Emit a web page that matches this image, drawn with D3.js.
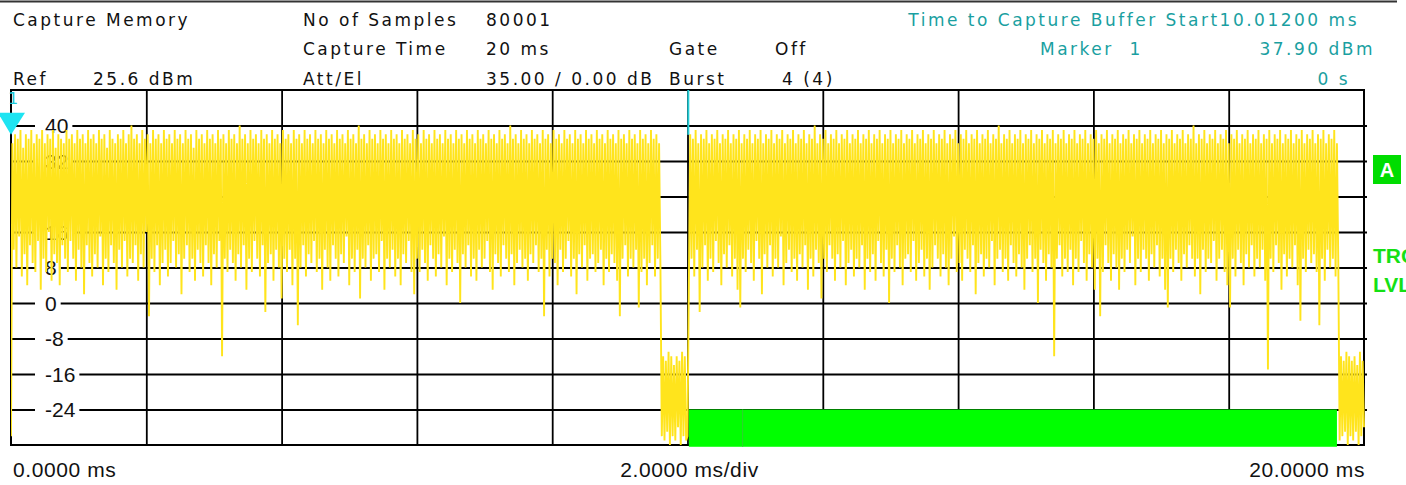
<!DOCTYPE html>
<html>
<head>
<meta charset="utf-8">
<script src="https://cdn.jsdelivr.net/npm/d3@7"></script>
<style>
html, body { margin: 0; padding: 0; background: #fff; overflow: hidden; }
svg { display: block; }
</style>
</head>
<body>
<svg id="chart" width="1406" height="485"></svg>
<script>
// ---- values
var timeDomain = [0, 20];      // ms
var levelDomain = [-32, 48];   // dBm
var yTicks = [40, 32, 24, 16, 8, 0, -8, -16, -24];
var xTicks = [2, 4, 6, 8, 10, 12, 14, 16, 18];

var sampleStep = 0.02;   // ms between plotted samples
var leadStart = 0, leadLevels = [-30];

var burst1Start = 0.02;
var burst1Levels = [
  36,12, 38,8, 37,15, 39,6, 35,11, 38,4, 37,13, 39,9, 36,7, 38,14,
  37,3, 39,10, 36,7, 38,16, 37,5, 39,11, 35,9, 38,4, 37,13, 36,10,
  39,7, 37,14, 38,10, 36,5, 39,12, 37,8, 38,2, 36,13, 39,9, 37,6,
  38,11, 36,8, 39,15, 37,4, 38,10, 35,7, 39,13, 37,9, 36,3, 38,12,
  37,8, 39,14, 36,6, 38,10, 40,9, 37,13, 38,5, 36,11, 39,8, 37,16,
  38,-3, 36,10, 39,7, 37,13, 38,4, 36,9, 39,12, 37,6, 38,9, 36,14,
  39,8, 37,11, 38,2, 36,10, 39,13, 37,7, 38,10, 35,5, 39,12, 37,9,
  38,6, 36,13, 39,9, 37,4, 38,11, 36,8, 39,14, 37,-12, 38,10, 36,7,
  39,12, 37,9, 38,5, 36,11, 40,8, 37,13, 38,3, 36,10, 39,7, 37,14,
  38,10, 36,6, 39,13, 37,-2, 38,9, 36,11, 39,5, 37,12, 38,8, 36,1,
  39,10, 37,7, 38,12, 36,4, 39,10, 37,-5, 38,8, 36,13, 39,6, 37,11,
  38,9, 36,14, 39,7, 37,10, 38,3, 36,12, 39,8, 37,5, 38,13, 36,10,
  39,6, 37,11, 38,9, 36,15, 39,4, 37,10, 38,7, 36,12, 40,1, 37,10,
  38,8, 36,13, 39,5, 37,10, 38,11, 36,7, 39,14, 37,3, 38,10, 36,8,
  39,12, 37,6, 38,10, 36,4, 39,11, 37,9, 38,14, 36,7, 39,2, 37,10,
  38,7, 36,12, 39,9, 37,5, 38,13, 36,10, 39,6, 37,11, 38,8, 36,15,
  39,4, 37,10, 38,7, 36,12, 39,9, 37,0, 38,11, 36,8, 39,13, 37,6,
  38,10, 36,5, 39,12, 37,8, 38,10, 36,14, 39,7, 37,3, 38,11, 36,9,
  39,6, 37,13, 38,10, 36,7, 40,11, 37,4, 38,9, 36,12, 39,8, 37,10,
  38,5, 36,11, 39,9, 37,13, 38,7, 36,10, 39,-3, 37,12, 38,6, 36,10,
  39,9, 37,4, 38,12, 36,7, 39,10, 37,14, 38,6, 36,10, 39,2, 37,11,
  38,8, 36,13, 39,5, 37,10, 38,11, 36,7, 39,9, 37,12, 38,4, 36,10,
  39,7, 37,11, 38,9, 36,5, 39,-3, 37,10, 38,13, 36,6, 39,10, 37,8,
  38,12, 36,-1, 39,7, 37,10, 38,4, 36,9, 39,13, 37,6, 38,10, 36,8
];

var gap1Start = 9.62;
var gap1Levels = [-30,-12,-31,-13,-29,-11,-32,-12,-30,-14,-31,-12,-28,-13,-32,-11,-30,-12,-31,-30];

var burst2Start = 10.04;
var burst2Levels = [
  38,10, 37,6, 39,12, 36,-2, 38,8, 37,13, 39,5, 36,10, 38,7, 37,14,
  39,9, 36,4, 38,11, 37,8, 39,13, 36,6, 38,10, 37,3, 39,-1, 36,10,
  38,7, 37,12, 39,9, 36,5, 38,14, 37,10, 39,2, 36,11, 38,8, 37,13,
  39,6, 36,10, 38,8, 37,15, 39,4, 36,9, 38,12, 37,7, 39,10, 36,5,
  38,11, 37,8, 39,13, 36,3, 38,10, 37,6, 40,12, 36,9, 38,1, 37,10,
  39,7, 36,13, 38,10, 37,5, 39,11, 36,8, 38,14, 37,4, 39,9, 36,12,
  38,6, 37,10, 39,8, 36,13, 38,3, 37,10, 39,7, 36,11, 38,5, 37,14,
  39,9, 36,6, 38,12, 37,0, 39,10, 36,7, 38,13, 37,8, 39,4, 36,10,
  38,11, 37,7, 39,14, 36,5, 38,9, 37,12, 39,6, 36,10, 38,3, 37,8,
  39,13, 36,10, 38,6, 37,11, 39,8, 36,4, 38,10, 37,15, 39,7, 36,9,
  38,5, 37,12, 39,10, 36,7, 38,13, 37,2, 39,9, 36,11, 38,6, 37,10,
  39,8, 36,14, 38,4, 37,10, 40,12, 36,7, 38,10, 37,5, 39,13, 36,9,
  38,6, 37,11, 39,8, 36,3, 38,10, 37,13, 39,7, 36,10, 38,0, 37,12,
  39,9, 36,5, 38,11, 37,8, 39,-12, 36,10, 38,13, 37,6, 39,10, 36,7,
  38,12, 37,4, 39,10, 36,7, 38,14, 37,9, 39,5, 36,11, 38,8, 37,3,
  39,10, 36,-3, 38,7, 37,13, 39,9, 36,5, 38,11, 37,8, 39,3, 36,10,
  38,7, 37,12, 39,9, 36,15, 38,4, 37,10, 39,7, 36,12, 38,10, 37,5,
  39,11, 36,8, 38,13, 37,6, 39,10, 36,3, 38,-1, 37,10, 39,7, 36,12,
  38,9, 37,5, 39,11, 36,8, 38,13, 37,10, 40,6, 36,10, 38,2, 37,12,
  39,7, 36,10, 38,9, 37,14, 39,5, 36,10, 38,12, 37,7, 39,4, 36,-1,
  38,10, 37,6, 39,12, 36,9, 38,4, 37,11, 39,8, 36,13, 38,6, 37,10,
  39,8, 36,12, 38,5, 37,-15, 39,10, 36,7, 38,13, 37,9, 39,3, 36,11,
  38,6, 37,10, 39,8, 36,13, 38,4, 37,-4, 39,10, 36,7, 38,12, 37,9,
  39,11, 36,7, 38,-5, 37,10, 39,5, 36,12, 38,8, 37,10, 39,6, 36,9
];

var gap2Start = 19.64;
var gap2Levels = [-31,-12,-30,-13,-29,-11,-32,-12,-30,-13,-31,-12,-29,-14,-32,-11,-30,-13,-28];

var markerTime = 0, markerLevel = 37.9;
var captureStartTime = 10.012;
var gateSpan = [10.02, 19.6];
var gateDivider = 10.815;
var gateLevels = [-24, -32.4];

// ---- screen texts
var hdrTitle = "Capture Memory", hdrRef = "Ref", hdrRefVal = "25.6 dBm";
var hdrSamples = "No of Samples", hdrSamplesVal = "80001";
var hdrCapTime = "Capture Time", hdrCapTimeVal = "20 ms";
var hdrAtt = "Att/El", hdrAttVal = "35.00 / 0.00 dB";
var hdrGate = "Gate", hdrGateVal = "Off", hdrBurst = "Burst", hdrBurstVal = "4 (4)";
var hdrBuffer = "Time to Capture Buffer Start10.01200 ms";
var hdrMarker = "Marker\u00a0 1", hdrMarkerLvl = "37.90 dBm", hdrMarkerTime = "0 s";
var xStartLabel = "0.0000 ms", xDivLabel = "2.0000 ms/div", xEndLabel = "20.0000 ms";

// ---- layout
var plotL = 11, plotR = 1364, plotT = 90, plotB = 445;
var svg = d3.select("#chart");

var x = d3.scaleLinear().domain(timeDomain).range([plotL, plotR]);
var y = d3.scaleLinear().domain(levelDomain).range([plotB, plotT]);

function seg(start, arr) {
    return arr.map(function(v, i) { return {t: start + i * sampleStep, v: v}; });
}
var trace = [].concat(
    seg(leadStart, leadLevels),
    seg(burst1Start, burst1Levels),
    seg(gap1Start, gap1Levels),
    seg(burst2Start, burst2Levels),
    seg(gap2Start, gap2Levels)
);

// top frame line
svg.append("line")
    .attr("x1", 0).attr("x2", 1397).attr("y1", 1.5).attr("y2", 1.5)
    .style("stroke", "#333").style("stroke-width", 2);

// header
var hdr = svg.append("g")
    .style("font-family", "'DejaVu Sans', Verdana, sans-serif")
    .style("font-size", "17px")
    .style("letter-spacing", "2.5px")
    .style("fill", "#111");

function hText(txt, px, py, anchor, color) {
    return hdr.append("text").attr("x", px).attr("y", py)
        .attr("text-anchor", anchor || "start")
        .style("fill", color || "#111")
        .text(txt);
}
var row1 = 26, row2 = 55, row3 = 85, teal = "#1a9fa1";
hText(hdrTitle, 13, row1);
hText(hdrRef, 13, row3);
hText(hdrRefVal, 93, row3);
hText(hdrSamples, 303, row1);
hText(hdrSamplesVal, 486, row1);
hText(hdrCapTime, 303, row2);
hText(hdrCapTimeVal, 486, row2);
hText(hdrAtt, 303, row3);
hText(hdrAttVal, 486, row3);
hText(hdrGate, 669, row2);
hText(hdrGateVal, 775, row2);
hText(hdrBurst, 669, row3);
hText(hdrBurstVal, 782, row3);
hText(hdrBuffer, 1359, row1, "end", teal);
hText(hdrMarker, 1040, row2, "start", teal);
hText(hdrMarkerLvl, 1375, row2, "end", teal);
hText(hdrMarkerTime, 1350, row3, "end", teal);

// grid via axes
var gridY = svg.append("g")
    .attr("transform", "translate(" + (plotR + 3) + ",0)")
    .call(d3.axisLeft(y).tickValues(yTicks).tickSize(plotR + 3 - plotL).tickFormat(""));
var gridX = svg.append("g")
    .attr("transform", "translate(0," + plotT + ")")
    .call(d3.axisBottom(x).tickValues(xTicks).tickSize(plotB - plotT).tickFormat(""));
[gridY, gridX].forEach(function(g) {
    g.select(".domain").remove();
    g.selectAll(".tick line").style("stroke", "#000").style("stroke-width", 1.8);
});

// level labels sit on the grid with a white knock-out
var lab = svg.append("g")
    .style("font-family", "'Liberation Sans', Arial, sans-serif")
    .style("font-size", "21px")
    .style("fill", "#111");
yTicks.forEach(function(v) {
    var t = lab.append("text").attr("x", 45).attr("y", y(v) + 7.5).text(v);
    var w = t.node().getComputedTextLength();
    lab.insert("rect", "text")
        .attr("x", 35).attr("y", y(v) - 9).attr("width", w + 14).attr("height", 18)
        .style("fill", "#fff");
});

// plot frame
svg.append("rect")
    .attr("x", plotL).attr("y", plotT)
    .attr("width", plotR - plotL).attr("height", plotB - plotT)
    .style("fill", "none").style("stroke", "#000").style("stroke-width", 2);

// trace
svg.append("clipPath").attr("id", "plotClip")
    .append("rect").attr("x", plotL).attr("y", plotT - 1)
    .attr("width", plotR - plotL + 2).attr("height", plotB - plotT + 3);

svg.append("path")
    .datum(trace)
    .attr("clip-path", "url(#plotClip)")
    .attr("d", d3.line().x(function(d) { return x(d.t); }).y(function(d) { return y(d.v); }))
    .style("fill", "none")
    .style("stroke", "#ffe41c")
    .style("stroke-width", 1.9);

// gate / burst indicator
svg.append("rect")
    .attr("x", x(gateSpan[0]))
    .attr("width", x(gateSpan[1]) - x(gateSpan[0]))
    .attr("y", y(gateLevels[0]))
    .attr("height", y(gateLevels[1]) - y(gateLevels[0]))
    .style("fill", "#00ff00");
svg.append("line")
    .attr("x1", x(gateDivider)).attr("x2", x(gateDivider))
    .attr("y1", y(gateLevels[0])).attr("y2", y(gateLevels[1]))
    .style("stroke", "#2fd02f").style("stroke-width", 1);

// capture buffer start line
svg.append("line")
    .attr("x1", x(captureStartTime)).attr("x2", x(captureStartTime))
    .attr("y1", y(levelDomain[1])).attr("y2", y(markerLevel))
    .style("stroke", "#22ccd6").style("stroke-width", 2);

// marker 1
var mx = x(markerTime), my = y(markerLevel);
svg.append("path")
    .attr("d", "M" + (mx - 13) + "," + (my - 22) + "L" + (mx + 14) + "," + (my - 22) + "L" + mx + "," + my + "Z")
    .style("fill", "#1ee4f2");
svg.append("text")
    .attr("x", mx - 3).attr("y", plotT + 14)
    .style("font-family", "'DejaVu Sans', sans-serif").style("font-size", "16px")
    .style("fill", "#1ec8d8")
    .text("1");

// right side annotations
svg.append("rect").attr("x", 1373).attr("y", 155).attr("width", 28).attr("height", 29)
    .style("fill", "#00dd00");
svg.append("text").attr("x", 1387).attr("y", 177).attr("text-anchor", "middle")
    .style("font-family", "'Liberation Sans', Arial, sans-serif").style("font-weight", "bold")
    .style("font-size", "20px").style("fill", "#fff").text("A");
var side = svg.append("g")
    .style("font-family", "'Liberation Sans', Arial, sans-serif").style("font-weight", "bold")
    .style("font-size", "21px").style("fill", "#15e015");
side.append("text").attr("x", 1373).attr("y", 263).text("TRG");
side.append("text").attr("x", 1373).attr("y", 292).text("LVL");

// time axis labels
var bot = svg.append("g")
    .style("font-family", "'Liberation Sans', Arial, sans-serif")
    .style("font-size", "21px").style("letter-spacing", "0.6px").style("fill", "#111");
bot.append("text").attr("x", 13).attr("y", 477).text(xStartLabel);
bot.append("text").attr("x", x(10) + 2).attr("y", 477).attr("text-anchor", "middle").text(xDivLabel);
bot.append("text").attr("x", plotR + 1).attr("y", 477).attr("text-anchor", "end").text(xEndLabel);
</script>
</body>
</html>
